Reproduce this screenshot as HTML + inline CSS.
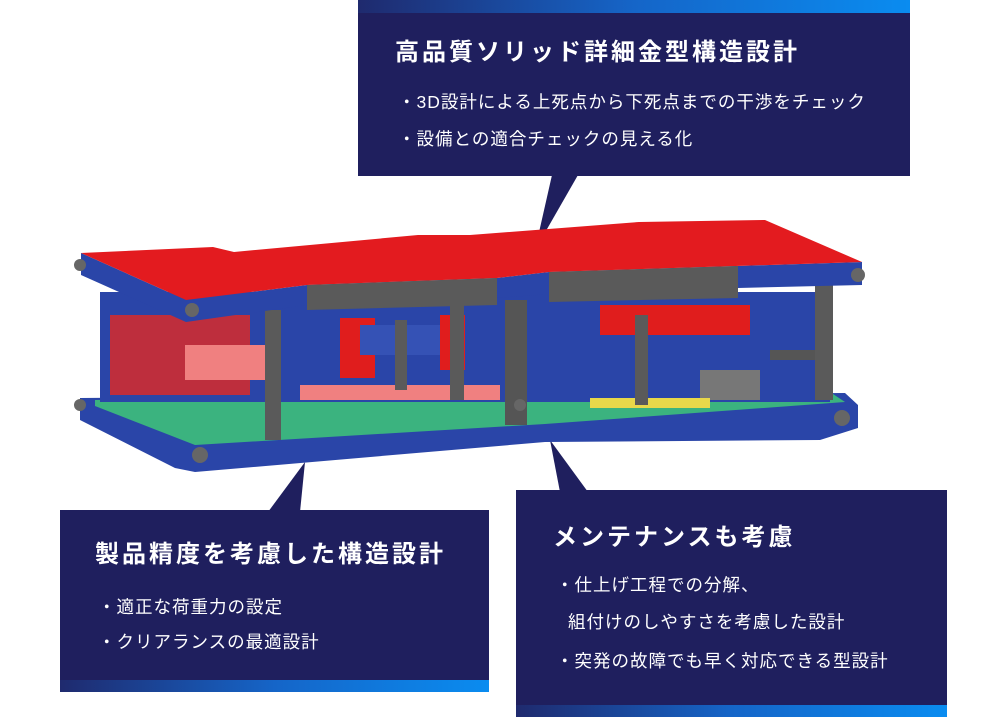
<!DOCTYPE html>
<html><head><meta charset="utf-8"><style>
body{margin:0;width:1000px;height:717px;background:#fff;position:relative;overflow:hidden;font-family:"Liberation Sans","Noto Sans CJK JP",sans-serif}
.box{position:absolute;background:#1f1f5e;color:#fff}
.t{position:absolute;font-size:24px;font-weight:bold;letter-spacing:3px;white-space:nowrap}
.b{position:absolute;font-size:17.5px;white-space:nowrap;letter-spacing:1px}
.g{position:absolute;left:0;right:0;height:12px;background:linear-gradient(90deg,#1f2a6e,#1565c8 50%,#0a8cf0)}
</style></head><body>
<svg width="1000" height="717" style="position:absolute;left:0;top:0">
<polygon points="552,175 578,175 535,250" fill="#1f1f5e"/>
<polygon points="268,512 300,512 305,462" fill="#1f1f5e"/>
<polygon points="560,492 588,492 550,440" fill="#1f1f5e"/>
<polygon points="80,398 845,393 858,405 858,428 820,440 545,442 195,472 175,468 80,420" fill="#2a45a8"/>
<polygon points="95,400 830,392 845,402 545,424 195,445 95,406" fill="#3bb37f"/>
<rect x="100" y="292" width="730" height="110" fill="#2a45a8"/>
<rect x="110" y="315" width="140" height="80" fill="#d82a2a" opacity=".85"/>
<rect x="185" y="345" width="80" height="35" fill="#f08080"/>
<rect x="340" y="318" width="35" height="60" fill="#e01d1d"/>
<rect x="440" y="315" width="25" height="55" fill="#e01d1d"/>
<rect x="600" y="305" width="150" height="30" fill="#e01d1d"/>
<rect x="300" y="385" width="200" height="15" fill="#f08080"/>
<rect x="360" y="325" width="80" height="30" fill="#3552b5"/>
<rect x="700" y="370" width="60" height="30" fill="#777"/>
<rect x="590" y="398" width="120" height="10" fill="#e8d84a"/>
<rect x="770" y="350" width="50" height="10" fill="#555"/>
<rect x="265" y="310" width="16" height="130" fill="#5a5a5a"/>
<rect x="505" y="300" width="22" height="125" fill="#555"/>
<rect x="815" y="285" width="18" height="115" fill="#5a5a5a"/>
<rect x="635" y="315" width="13" height="90" fill="#5a5a5a"/>
<rect x="395" y="320" width="12" height="70" fill="#5a5a5a"/>
<rect x="450" y="305" width="14" height="95" fill="#5a5a5a"/>
<polygon points="81,253 186,300 307,285 497,278 549,272 862,262 862,285 738,288 549,294 497,298 307,305 186,322 81,275" fill="#2a45a8"/>
<polygon points="81,253 213,247 234,252 418,235 470,235 639,222 765,220 862,262 549,272 497,278 307,285 186,300" fill="#e31b1f"/>
<polygon points="307,285 497,278 497,305 307,310" fill="#5a5a5a"/>
<polygon points="549,272 738,266 738,298 549,302" fill="#5a5a5a"/>
<g fill="#666"><circle cx="80" cy="265" r="6"/><circle cx="858" cy="275" r="7"/><circle cx="80" cy="405" r="6"/><circle cx="200" cy="455" r="8"/><circle cx="842" cy="418" r="8"/><circle cx="192" cy="310" r="7"/><circle cx="520" cy="405" r="6"/></g>
</svg>
<div class="box" style="left:358px;top:0;width:552px;height:176px"><div class="g" style="top:0;height:13px"></div>
<div class="t" style="left:37px;top:32px">高品質ソリッド詳細金型構造設計</div>
<div class="b" style="left:40px;top:89px">・3D設計による上死点から下死点までの干渉をチェック</div>
<div class="b" style="left:40px;top:126px">・設備との適合チェックの見える化</div></div>
<div class="box" style="left:60px;top:510px;width:429px;height:182px"><div class="g" style="bottom:0"></div>
<div class="t" style="left:35px;top:24px">製品精度を考慮した構造設計</div>
<div class="b" style="left:38px;top:84px">・適正な荷重力の設定</div>
<div class="b" style="left:38px;top:119px">・クリアランスの最適設計</div></div>
<div class="box" style="left:516px;top:490px;width:431px;height:227px"><div class="g" style="bottom:0"></div>
<div class="t" style="left:37px;top:27px">メンテナンスも考慮</div>
<div class="b" style="left:40px;top:82px">・仕上げ工程での分解、</div>
<div class="b" style="left:52px;top:119px">組付けのしやすさを考慮した設計</div>
<div class="b" style="left:40px;top:158px">・突発の故障でも早く対応できる型設計</div></div>
</body></html>
